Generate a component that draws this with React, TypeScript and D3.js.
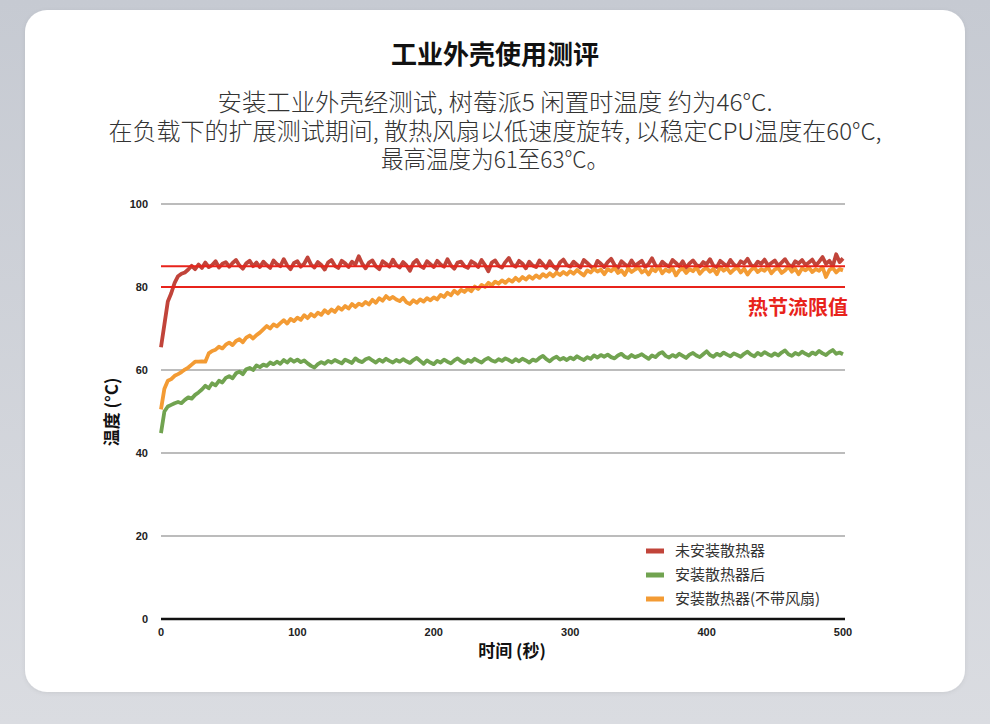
import * as d3 from "d3"

// time step between samples (seconds)
const STEP = 2.5

const redSeries = [
  65.5, 71.0, 76.5, 78.5, 81.0, 82.6, 83.2, 83.5, 84.2, 85.1,
  84.3, 85.4, 84.6, 85.9, 84.8, 85.3, 86.2, 84.7, 85.6, 86.0,
  84.9, 85.8, 86.5, 85.2, 84.4, 85.7, 86.3, 85.0, 85.9, 84.8,
  86.1, 85.3, 84.6, 86.4, 85.5, 85.0, 86.7, 85.2, 84.3, 85.8,
  86.2, 84.9, 85.6, 87.1, 85.4, 84.7, 86.0, 85.3, 84.2, 85.9,
  86.5, 85.1, 84.6, 86.3, 85.7, 84.8, 86.1, 85.4, 87.4, 85.6,
  84.5, 85.9, 86.4, 85.0, 84.3, 86.2, 85.6, 84.9, 86.6, 85.3,
  84.7, 86.0, 85.2, 83.9, 85.8, 86.5, 85.1, 84.6, 86.2, 85.5,
  84.8, 86.3, 85.4, 84.9, 86.7, 85.2, 84.4, 85.9, 86.1, 85.0,
  84.6, 86.2, 85.7, 84.8, 86.5, 85.3, 83.8, 85.9, 86.4, 85.1,
  84.7, 86.0, 87.0, 85.4, 84.9, 86.3, 85.6, 84.5, 86.1, 85.2,
  84.8, 86.4, 85.5, 84.6, 86.2, 85.0, 84.3, 85.9, 86.6, 85.3,
  84.9, 86.1, 85.4, 84.7, 86.5, 85.8, 85.0, 84.4, 86.3, 85.6,
  84.8, 86.0, 86.8, 85.3, 84.6, 86.2, 85.5, 84.9, 86.4, 85.1,
  85.7, 86.3, 84.8, 85.6, 86.9, 85.2, 84.7, 86.1, 85.4, 84.9,
  86.5, 85.8, 85.0, 86.2, 84.6, 85.7, 86.4, 85.3, 84.9, 86.0,
  85.5, 86.7, 85.1, 84.8, 86.3, 85.6, 85.0, 86.5, 85.4, 84.9,
  86.2, 85.7, 86.8, 85.3, 84.9, 86.1, 85.6, 86.6, 85.2, 85.8,
  86.4, 85.1, 85.9, 86.7, 85.4, 84.8, 86.2, 85.7, 86.5, 85.3,
  85.9, 86.6, 85.2, 86.1, 87.2, 85.6, 86.3, 85.0, 87.9, 86.0,
  86.9,
]

const orangeSeries = [
  50.5, 55.5, 57.4, 57.8, 58.6, 59.0, 59.5, 60.1, 60.6, 61.3,
  62.0, 62.0, 62.1, 62.0, 64.0, 64.6, 64.9, 65.6, 65.2, 66.1,
  66.6, 66.0, 67.0, 67.4, 66.7, 67.8, 68.3, 67.6, 68.4, 69.0,
  69.8, 70.6, 70.0, 71.0, 70.5, 71.3, 72.0, 71.2, 72.3, 71.8,
  72.6, 72.1, 73.2, 72.5, 73.5, 72.9, 73.8, 73.3, 74.4, 73.7,
  74.6, 74.0, 75.1, 74.5, 75.4, 74.8, 75.9, 75.2, 76.0, 75.6,
  76.4, 75.8, 76.9, 76.2, 77.3, 76.7, 77.8, 77.1, 77.6, 77.0,
  76.6, 77.4, 76.3, 75.9, 76.8, 76.2, 77.0, 76.5, 77.3, 76.8,
  77.5, 77.0, 78.1, 77.6, 78.6, 78.0, 79.1, 78.4, 79.3, 78.8,
  79.6, 79.0, 80.1, 79.5, 80.5, 80.0, 81.0, 80.4, 81.3, 80.8,
  81.6, 81.0, 81.8, 81.3, 82.2, 81.5, 82.4, 81.8, 82.6, 82.0,
  82.8, 82.2, 83.1, 82.5, 83.3, 82.6, 83.5, 82.9, 83.6, 83.0,
  83.8, 83.2, 84.1, 83.4, 82.8, 84.0, 83.5, 84.4, 83.7, 84.2,
  83.1, 84.3, 83.8, 84.6, 83.4, 84.0, 82.9, 84.5, 83.6, 84.2,
  84.7, 83.5, 84.1, 83.0, 84.4, 83.8, 84.9, 83.3, 84.2, 83.7,
  84.6, 82.8, 84.0, 84.5, 83.4, 84.3, 83.8, 84.8, 83.2, 84.1,
  84.6, 83.7, 84.3, 83.1, 84.8, 83.9, 84.5, 83.4, 84.2, 84.7,
  83.5, 84.4, 83.0, 84.1, 84.7, 83.6, 84.3, 83.9, 84.8, 83.3,
  84.2, 84.6, 83.4, 84.0, 84.9, 83.7, 84.4, 83.1, 84.5, 84.0,
  84.7, 83.6, 84.3, 83.9, 84.8, 82.4, 84.1, 84.6, 83.5, 84.3,
  84.0,
]

const greenSeries = [
  44.8, 50.0, 51.2, 51.6, 52.0, 52.3, 52.0, 52.8, 53.4, 53.1,
  54.0, 54.6, 55.3, 56.2, 55.6, 56.8, 56.3, 57.4, 57.0, 58.1,
  58.5, 58.0, 59.2, 59.6, 59.0, 60.2, 60.5, 60.0, 61.1, 60.7,
  61.3, 61.0, 61.8, 61.4, 62.0, 61.5, 62.4, 61.8, 62.6, 62.0,
  62.5, 61.9, 62.3, 61.6, 61.0, 60.6, 61.4, 61.9, 61.5, 62.2,
  61.8, 62.4, 62.0, 61.6, 62.5, 62.1, 61.7, 62.8, 62.2, 61.9,
  62.6, 62.9, 62.3, 61.8, 62.5, 62.0, 62.7, 62.2, 61.8, 62.4,
  62.0, 62.6, 62.1, 61.7, 62.4, 62.9, 62.2, 61.5, 62.3, 61.8,
  61.4, 62.2, 61.8, 62.5, 62.0, 61.6, 62.3, 62.8, 62.1, 61.7,
  62.4, 62.0, 62.7, 62.2, 61.8, 62.5, 62.9, 62.3, 62.0, 62.6,
  62.2, 62.8, 62.4, 61.9, 62.6, 62.1, 62.7, 62.3, 61.8, 62.5,
  62.2, 62.9, 63.4, 62.6, 62.1, 62.8, 63.2, 62.5, 62.9, 62.4,
  63.0, 62.6, 63.3, 62.8, 62.4, 63.1, 62.7, 63.5, 63.0, 63.6,
  63.2, 63.7, 63.1, 62.8, 63.5, 63.9, 63.2, 62.9, 63.6, 63.1,
  63.4, 63.8, 63.2, 62.7, 63.5, 63.1, 63.9, 64.3, 63.4, 63.0,
  63.6, 63.2, 63.9, 63.4, 62.9, 63.7, 64.1, 63.5, 63.1, 63.8,
  64.5, 63.6, 63.2, 63.9, 63.5, 64.2, 63.7, 63.3, 64.0, 63.6,
  63.2, 63.9, 64.4, 63.7, 63.3, 64.1, 63.6, 64.3, 63.8, 63.4,
  64.0, 63.5, 64.2, 64.7, 63.8, 63.4, 64.1, 63.7, 64.4, 63.9,
  63.5, 64.2, 63.8, 64.6, 64.0, 63.6, 64.3, 64.8, 63.9, 64.2,
  63.8,
]

const yTicks = [0, 20, 40, 60, 80, 100]
const xTicks = [0, 100, 200, 300, 400, 500]
const thresholds = [80, 85]

const legendLabels = ["未安装散热器", "安装散热器后", "安装散热器(不带风扇)"]
const subtitleLines = [
  "安装工业外壳经测试, 树莓派5 闲置时温度 约为46°C.",
  "在负载下的扩展测试期间, 散热风扇以低速度旋转, 以稳定CPU温度在60°C,",
  "最高温度为61至63°C。",
]
// measured widths of the subtitle lines in the reference
const subtitleWidths = [555, 773, 228]

const RED = "#c1443a"
const GREEN = "#71a350"
const ORANGE = "#f39b34"
const LIMIT = "#e8231b"

export default function App() {
  const W = 990
  const H = 724
  const x = d3.scaleLinear().domain([0, 500]).range([161, 843])
  const y = d3.scaleLinear().domain([0, 100]).range([619, 204])

  const line = d3
    .line<number>()
    .x((_, i) => x(i * STEP))
    .y((d) => y(d))

  const series = [
    { data: redSeries, color: RED },
    { data: greenSeries, color: GREEN },
    { data: orangeSeries, color: ORANGE },
  ]
  const legendColors = [RED, GREEN, ORANGE]

  const cjk = "'Noto Sans CJK SC', 'Noto Sans', sans-serif"
  const latin = "'Liberation Sans', Arial, sans-serif"

  return (
    <svg width={W} height={H} style={{ position: "absolute", left: 0, top: 0 }}>
      <defs>
        <linearGradient id="bg" x1="0" y1="0" x2="0" y2="1">
          <stop offset="0%" stopColor="#c6cad2" />
          <stop offset="100%" stopColor="#dadce1" />
        </linearGradient>
        <filter id="shadow" x="-5%" y="-5%" width="110%" height="110%">
          <feDropShadow dx="0" dy="1" stdDeviation="2" floodColor="#000" floodOpacity="0.08" />
        </filter>
      </defs>
      <rect width={W} height={H} fill="url(#bg)" />
      <rect x={25} y={10} width={940} height={682} rx={22} fill="#fff" filter="url(#shadow)" />

      {/* title */}
      <text x={495} y={64} textAnchor="middle" fontFamily={cjk} fontWeight={700} fontSize={26} fill="#111">
        工业外壳使用测评
      </text>
      {subtitleLines.map((s, i) => (
        <text
          key={i}
          x={495}
          y={111 + i * 28.5}
          textAnchor="middle"
          fontFamily={cjk}
          fontWeight={300}
          fontSize={23.5}
          textLength={subtitleWidths[i]}
          lengthAdjust="spacingAndGlyphs"
          fill="#333"
        >
          {s}
        </text>
      ))}

      {/* grid */}
      {yTicks.filter((t) => t > 0).map((t) => (
        <line key={t} x1={161} x2={845} y1={y(t)} y2={y(t)} stroke="#bcbcbc" strokeWidth={2} />
      ))}
      {yTicks.map((t) => (
        <text
          key={t}
          x={148}
          y={y(t)}
          dy="0.35em"
          textAnchor="end"
          fontFamily={latin}
          fontWeight={700}
          fontSize={11}
          fill="#222"
        >
          {t}
        </text>
      ))}
      {xTicks.map((t) => (
        <text
          key={t}
          x={x(t)}
          y={636}
          textAnchor="middle"
          fontFamily={latin}
          fontWeight={700}
          fontSize={11}
          fill="#222"
        >
          {t}
        </text>
      ))}

      {/* series */}
      {series.map((s, i) => (
        <path
          key={i}
          d={line(s.data) || ""}
          fill="none"
          stroke={s.color}
          strokeWidth={3.8}
          strokeLinejoin="round"
        />
      ))}

      {/* thresholds */}
      {thresholds.map((t) => (
        <line key={t} x1={161} x2={845} y1={y(t)} y2={y(t)} stroke={LIMIT} strokeWidth={2} />
      ))}
      <text x={848} y={308} dy="0.35em" textAnchor="end" fontFamily={cjk} fontWeight={700} fontSize={20} fill={LIMIT}>
        热节流限值
      </text>

      {/* zero axis */}
      <line x1={161} x2={845} y1={y(0)} y2={y(0)} stroke="#111" strokeWidth={2.5} />

      {/* axis titles */}
      <text
        transform={`translate(112, ${412}) rotate(-90)`}
        textAnchor="middle"
        dy="0.35em"
        fontFamily={cjk}
        fontWeight={700}
        fontSize={17}
        fill="#111"
      >
        温度 (°C)
      </text>
      <text x={512} y={651} dy="0.35em" textAnchor="middle" fontFamily={cjk} fontWeight={700} fontSize={17} fill="#111">
        时间 (秒)
      </text>

      {/* legend */}
      {legendLabels.map((l, i) => (
        <g key={l} transform={`translate(646, ${551 + i * 24})`}>
          <rect x={0} y={-2.5} width={18} height={5} fill={legendColors[i]} />
          <text x={29} y={0} dy="0.35em" fontFamily={cjk} fontSize={15} fill="#333">
            {l}
          </text>
        </g>
      ))}
    </svg>
  )
}
